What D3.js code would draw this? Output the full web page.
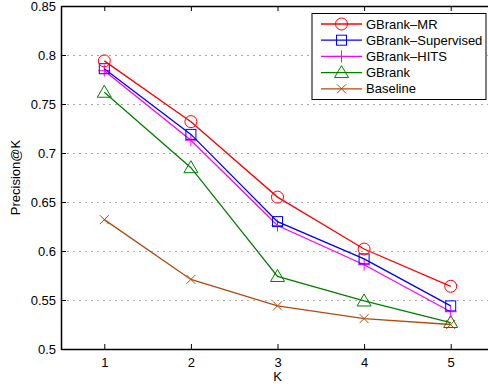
<!DOCTYPE html>
<html>
<head>
<meta charset="utf-8">
<script src="https://cdn.jsdelivr.net/npm/d3@7"></script>
<style>
  body { margin: 0; background: #fff; }
  svg { display: block; font-family: "Liberation Sans", Arial, sans-serif; }
</style>
</head>
<body>
<svg width="488" height="384"></svg>
<script>
// data
var ks = [1, 2, 3, 4, 5];
var seriesNames = ['GBrank\u2013MR', 'GBrank\u2013Supervised', 'GBrank\u2013HITS', 'GBrank', 'Baseline'];
var mrVals = [0.794, 0.732, 0.655, 0.602, 0.564];
var supVals = [0.786, 0.719, 0.630, 0.592, 0.544];
var hitsVals = [0.784, 0.713, 0.626, 0.586, 0.538];
var gbVals = [0.762, 0.685, 0.574, 0.549, 0.527];
var baseVals = [0.632, 0.571, 0.544, 0.531, 0.525];
var yTicks = [0.5, 0.55, 0.6, 0.65, 0.7, 0.75, 0.8, 0.85];

var colors = ['#ff0000', '#0000ff', '#ff00ff', '#008000', '#b04a12'];
var markers = ['circle', 'square', 'plus', 'triangle', 'cross'];
var allVals = [mrVals, supVals, hitsVals, gbVals, baseVals];

var svg = d3.select('svg');
var padL = 61, padT = 6, padR = 494, padB = 349;

var x = d3.scaleLinear().domain([0.5, 5.5]).range([padL, padR]);
var y = d3.scaleLinear().domain([0.5, 0.85]).range([padB, padT]);

// grid
svg.append('g').selectAll('line')
	.data(yTicks.slice(1, -1))
	.enter().append('line')
	.attr('x1', padL).attr('x2', padR)
	.attr('y1', function(d) { return Math.round(y(d)) + 0.5; })
	.attr('y2', function(d) { return Math.round(y(d)) + 0.5; })
	.style('stroke', '#aaa')
	.style('stroke-dasharray', '2,4');

// axes
var xAxis = d3.axisBottom(x).tickValues(ks).tickSizeInner(-5).tickSizeOuter(0).tickPadding(9)
	.tickFormat(d3.format('d'));
var yAxis = d3.axisLeft(y).tickValues(yTicks).tickSizeInner(-5).tickSizeOuter(0).tickPadding(5)
	.tickFormat(function(d) { return String(+d.toFixed(2)); });
var xTop = d3.axisTop(x).tickValues(ks).tickSizeInner(-5).tickSizeOuter(0).tickFormat('');

function styleAxis(g) {
	g.selectAll('path, line').style('stroke', '#000');
	g.select('.domain').style('stroke-width', 1.5);
	g.selectAll('text').style('font-size', '13px').style('fill', '#000').style('font-family', '"Liberation Sans", Arial, sans-serif');
}

svg.append('g').attr('transform', 'translate(0,' + padB + ')').call(xAxis).call(styleAxis);
svg.append('g').attr('transform', 'translate(0,' + padT + ')').call(xTop).call(styleAxis);
svg.append('g').attr('transform', 'translate(' + padL + ',0)').call(yAxis).call(styleAxis);

svg.append('text').attr('x', x(3)).attr('y', 381)
	.attr('text-anchor', 'middle').style('font-size', '13px').text('K');
svg.append('text').attr('transform', 'translate(20,' + ((padT + padB) / 2) + ') rotate(-90)')
	.attr('text-anchor', 'middle').style('font-size', '13px').text('Precision@K');

function drawMarker(g, type, cx, cy, color) {
	if (type === 'circle') {
		g.append('circle').attr('cx', cx).attr('cy', cy).attr('r', 6)
			.style('fill', 'none').style('stroke', color);
	} else if (type === 'square') {
		g.append('rect').attr('x', cx - 5).attr('y', cy - 5).attr('width', 10).attr('height', 10)
			.style('fill', 'none').style('stroke', color);
	} else if (type === 'plus') {
		g.append('path').attr('d', 'M' + (cx - 6) + ',' + cy + 'H' + (cx + 6) + 'M' + cx + ',' + (cy - 6) + 'V' + (cy + 6))
			.style('stroke', color);
	} else if (type === 'triangle') {
		g.append('path').attr('d', 'M' + cx + ',' + (cy - 7) + 'L' + (cx + 7) + ',' + (cy + 5) + 'L' + (cx - 7) + ',' + (cy + 5) + 'Z')
			.style('fill', 'none').style('stroke', color);
	} else {
		g.append('path').attr('d', 'M' + (cx - 4.5) + ',' + (cy - 4.5) + 'L' + (cx + 4.5) + ',' + (cy + 4.5) + 'M' + (cx - 4.5) + ',' + (cy + 4.5) + 'L' + (cx + 4.5) + ',' + (cy - 4.5))
			.style('stroke', color);
	}
}

var line = d3.line().x(function(d, i) { return x(ks[i]); }).y(function(d) { return y(d); });

// draw baseline first so others overlay like the original
for (var s = allVals.length - 1; s >= 0; s--) {
	var g = svg.append('g');
	g.append('path').datum(allVals[s]).attr('d', line)
		.style('fill', 'none').style('stroke', colors[s]).style('stroke-width', 1.3);
	allVals[s].forEach(function(v, i) {
		drawMarker(g, markers[s], x(ks[i]), y(v), colors[s]);
	});
}

// legend
var lg = svg.append('g');
lg.append('rect').attr('x', 312).attr('y', 13.5).attr('width', 174).attr('height', 86)
	.style('fill', '#fff').style('stroke', '#000');
seriesNames.forEach(function(name, i) {
	var ly = 24 + i * 16.2;
	lg.append('line').attr('x1', 321).attr('x2', 362).attr('y1', ly).attr('y2', ly)
		.style('stroke', colors[i]).style('stroke-width', 1.3);
	drawMarker(lg, markers[i], 341.5, ly, colors[i]);
	lg.append('text').attr('x', 366).attr('y', ly + 4.5)
		.style('font-size', '13px').text(name);
});
</script>
</body>
</html>
